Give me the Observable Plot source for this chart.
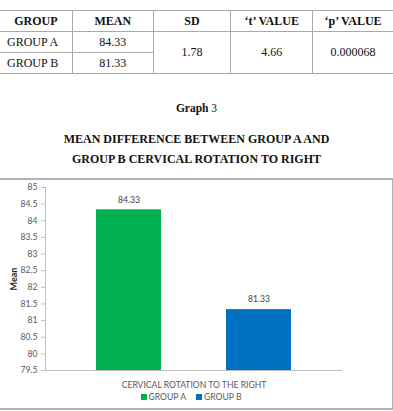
<!DOCTYPE html>
<html>
<head>
<meta charset="utf-8">
<script src="https://cdn.jsdelivr.net/npm/d3@7"></script>
<script src="https://cdn.jsdelivr.net/npm/@observablehq/plot@0.6"></script>
<style>
  html, body { margin: 0; padding: 0; background: #fff; }
  body { width: 393px; height: 411px; position: relative; overflow: hidden; }
  #tbl { position: absolute; top: 10px; left: -1px; width: 395px; border-collapse: collapse;
         font-family: "Liberation Serif", "Times New Roman", serif; font-size: 12px; color: #111; }
  #tbl td, #tbl th { border: 1px solid #a9a9a9; height: 20px; padding: 0; text-align: center; }
  #tbl th { font-weight: bold; }
  #tbl td.l { text-align: left; padding-left: 7px; }
  #gtitle { position: absolute; top: 102px; left: 0; width: 393px; text-align: center;
            font-family: "Liberation Serif", serif; font-size: 11.5px; color: #111; }
  #ttl { position: absolute; top: 129px; left: 0; width: 393px; text-align: center;
         font-family: "Liberation Serif", serif; font-weight: bold; font-size: 12px; line-height: 20px; color: #111; }
  #box { position: absolute; top: 178px; left: -10px; width: 400px; height: 228px;
         border: 2px solid #b3b3b3; }
  #chart { position: absolute; top: 0; left: 8px; }
  #leg { position: absolute; top: 212px; left: 8px; width: 392px; }
  .lg-swatches { display: flex !important; justify-content: center; align-items: center;
                 font-family: Lato, sans-serif !important; font-size: 8.6px !important; color: #595959;
                 min-height: 0 !important; margin: 0 !important; }
  .lg-swatch { margin-right: 10px !important; }
  .lg-swatch > svg { margin-right: 2px !important; }
</style>
</head>
<body>
<script>
// ---- data ----
const tableHeaders = ["GROUP", "MEAN", "SD", "\u2018t\u2019 VALUE", "\u2018p\u2019 VALUE"];
const groups = ["GROUP A", "GROUP B"];
const means = [84.33, 81.33];
const sdValue = "1.78";
const tValue = "4.66";
const pValue = "0.000068";
const category = "CERVICAL ROTATION TO THE RIGHT";
const colors = ["#00b050", "#0070c0"];
const yTicks = [79.5, 80, 80.5, 81, 81.5, 82, 82.5, 83, 83.5, 84, 84.5, 85];
const graphLabel = "Graph";
const graphNumber = "3";
const titleLines = ["MEAN DIFFERENCE BETWEEN GROUP A AND", "GROUP B CERVICAL ROTATION TO RIGHT"];
const yLabel = "Mean";

// ---- table ----
const tbl = document.createElement("table");
tbl.id = "tbl";
const colW = [73, 81, 78, 82, 81];
let html = "<colgroup>" + colW.map(w => `<col style="width:${w}px">`).join("") + "</colgroup>";
html += "<tr>" + tableHeaders.map(h => `<th>${h}</th>`).join("") + "</tr>";
html += `<tr><td class="l">${groups[0]}</td><td>${means[0].toFixed(2)}</td><td rowspan="2">${sdValue}</td><td rowspan="2">${tValue}</td><td rowspan="2">${pValue}</td></tr>`;
html += `<tr><td class="l">${groups[1]}</td><td>${means[1].toFixed(2)}</td></tr>`;
tbl.innerHTML = html;
document.body.appendChild(tbl);

const g = document.createElement("div");
g.id = "gtitle";
g.innerHTML = `<b>${graphLabel}</b> ${graphNumber}`;
document.body.appendChild(g);

const t = document.createElement("div");
t.id = "ttl";
t.innerHTML = titleLines.join("<br>");
document.body.appendChild(t);

// ---- chart ----
const data = groups.map((gr, i) => ({category, group: gr, value: means[i]}));
const yDomain = [yTicks[0], yTicks[yTicks.length - 1]];

const box = document.createElement("div");
box.id = "box";
document.body.appendChild(box);

const chart = Plot.plot({
  width: 392,
  height: 212,
  marginLeft: 45,
  marginRight: 50,
  marginTop: 7,
  marginBottom: 22,
  style: {fontFamily: "Lato, sans-serif", fontSize: "8.6px", color: "#595959", background: "transparent"},
  fx: {domain: [category], padding: 0, axis: "bottom", tickSize: 0, tickPadding: 11, label: null},
  x: {domain: groups, paddingInner: 0.5, paddingOuter: 0.39, axis: null},
  y: {domain: yDomain, ticks: yTicks, tickFormat: d => String(d), tickSize: 4, tickPadding: 4,
      label: yLabel, labelAnchor: "center", labelArrow: "none", labelOffset: 35, grid: false, line: false},
  color: {domain: groups, range: colors},
  marks: [
    Plot.barY(data, {fx: "category", x: "group", y1: () => yDomain[0], y2: "value", fill: "group"}),
    Plot.text(data, {fx: "category", x: "group", y: "value", text: d => d.value.toFixed(2), dy: -10, fill: "#404040"}),
    Plot.ruleY([yDomain[0]], {stroke: "#bfbfbf", strokeWidth: 1}),
    Plot.frame({anchor: "left", stroke: "#bfbfbf"})
  ]
});
chart.id = "chart";
box.appendChild(chart);

// y-axis label bold
chart.querySelectorAll("g[aria-label='y-axis label'] text").forEach(el => {
  el.setAttribute("font-weight", "bold"); el.setAttribute("fill", "#262626"); el.setAttribute("font-size", "9px");
});
chart.querySelectorAll("g[aria-label='y-axis tick'] path").forEach(el => el.setAttribute("stroke", "#bfbfbf"));

const leg = Plot.legend({
  color: {domain: groups, range: colors},
  legend: "swatches",
  swatchSize: 6,
  className: "lg"
});
const legDiv = document.createElement("div");
legDiv.id = "leg";
legDiv.appendChild(leg);
box.appendChild(legDiv);
</script>
</body>
</html>
